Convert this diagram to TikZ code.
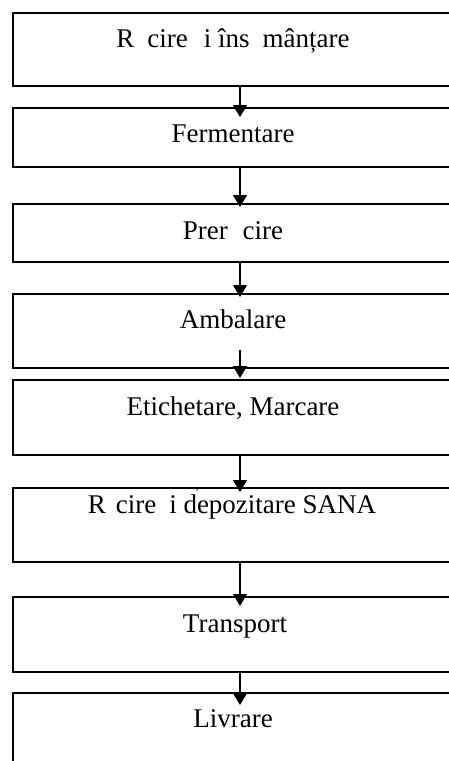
\documentclass[tikz,border=0pt]{standalone}
\usepackage{fontspec}
\setmainfont{Liberation Serif}
\usetikzlibrary{arrows.meta,calc}
\begin{document}
\begin{tikzpicture}[x=1pt,y=-1pt,
  stepbox/.style={draw=black, line width=1.7pt, minimum width=450pt, anchor=north west, inner sep=0pt},
  lbl/.style={anchor=base, inner sep=0pt, font=\fontsize{27}{32}\selectfont},
  arr/.style={line width=1.3pt, -{Triangle[width=14pt,length=12pt]}}]
\useasboundingbox (0,0) rectangle (449,761);
\clip (0,0) rectangle (449,761);
% boxes
\node[stepbox, minimum height=73pt] (b1) at (12,12) {};
\node[stepbox, minimum height=59pt] (b2) at (12,107) {};
\node[stepbox, minimum height=58pt] (b3) at (12,203) {};
\node[stepbox, minimum height=74pt] (b4) at (12,293) {};
\node[stepbox, minimum height=75pt] (b5) at (12,379) {};
\node[stepbox, minimum height=74pt] (b6) at (12,487) {};
\node[stepbox, minimum height=75pt] (b7) at (12,596) {};
\node[stepbox, minimum height=90pt] (b8) at (12,692) {};
% labels
\node[lbl] (t1) at (233,47) {R\hspace{13pt}cire\hspace{16pt}i îns\hspace{13pt}mânțare};
\node[lbl] (t2) at (233,142) {Fermentare};
\node[lbl] (t3) at (233,239) {Prer\hspace{15pt}cire};
\node[lbl] (t4) at (233,328) {Ambalare};
\node[lbl] (t5) at (233,415) {Etichetare, Marcare};
\node[lbl] (t6) at (232,513) {R\hspace{10pt}cire\hspace{13pt}i depozitare SANA};
\node[anchor=base, inner sep=0pt, font=\fontsize{14}{17}\selectfont] (cm) at (197,489) {,};
\node[lbl] (t7) at (235,632) {Transport};
\node[lbl] (t8) at (233,727) {Livrare};
% arrows
\coordinate (ax) at (240,0);
\draw[arr] (b1.south -| ax) -- ($(b2.north -| ax)+(0,10)$);
\draw[arr] (b2.south -| ax) -- ($(b3.north -| ax)+(0,4)$);
\draw[arr] (b3.south -| ax) -- ($(b4.north -| ax)+(0,4)$);
\draw[arr] ($(b4.south -| ax)+(0,-19)$) -- ($(b5.north -| ax)+(0,-1)$);
\draw[arr] (b5.south -| ax) -- ($(b6.north -| ax)+(0,5)$);
\draw[arr] (b6.south -| ax) -- ($(b7.north -| ax)+(0,10)$);
\draw[arr] (b7.south -| ax) -- ($(b8.north -| ax)+(0,13)$);
\end{tikzpicture}
\end{document}
